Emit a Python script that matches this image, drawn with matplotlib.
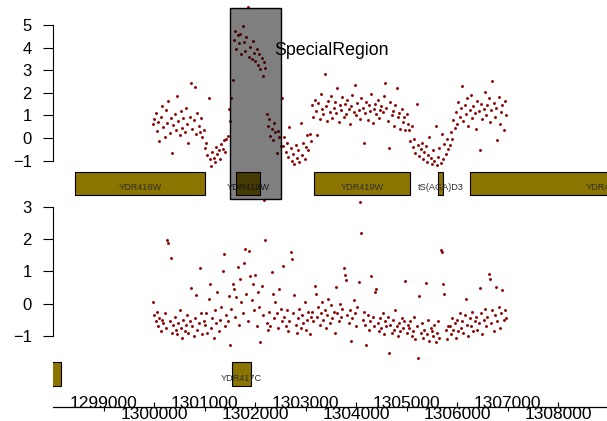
import numpy as np
import matplotlib
matplotlib.use("Agg")
import matplotlib.pyplot as plt
from matplotlib.patches import Rectangle
from matplotlib.transforms import blended_transform_factory

plt.rcParams['font.family'] = ['Liberation Sans', 'DejaVu Sans']

# probe positions (bp), shared by both data tracks
positions = [
    1299975, 1300000, 1300025, 1300050, 1300075, 1300100, 1300125, 1300150, 1300175, 1300200,
    1300225, 1300250, 1300275, 1300300, 1300325, 1300350, 1300375, 1300400, 1300425, 1300450,
    1300475, 1300500, 1300525, 1300550, 1300575, 1300600, 1300625, 1300650, 1300675, 1300700,
    1300725, 1300750, 1300775, 1300800, 1300825, 1300850, 1300875, 1300900, 1300925, 1300950,
    1300975, 1301000, 1301025, 1301050, 1301075, 1301100, 1301125, 1301150, 1301175, 1301200,
    1301225, 1301250, 1301275, 1301300, 1301325, 1301350, 1301375, 1301400, 1301425, 1301450,
    1301475, 1301500, 1301525, 1301550, 1301575, 1301600, 1301625, 1301650, 1301675, 1301700,
    1301725, 1301750, 1301775, 1301800, 1301825, 1301850, 1301875, 1301900, 1301925, 1301950,
    1301975, 1302000, 1302025, 1302050, 1302075, 1302100, 1302125, 1302150, 1302175, 1302200,
    1302225, 1302250, 1302275, 1302300, 1302325, 1302350, 1302375, 1302400, 1302425, 1302450,
    1302475, 1302500, 1302525, 1302550, 1302575, 1302600, 1302625, 1302650, 1302675, 1302700,
    1302725, 1302750, 1302775, 1302800, 1302825, 1302850, 1302875, 1302900, 1302925, 1302950,
    1302975, 1303000, 1303025, 1303050, 1303075, 1303100, 1303125, 1303150, 1303175, 1303200,
    1303225, 1303250, 1303275, 1303300, 1303325, 1303350, 1303375, 1303400, 1303425, 1303450,
    1303475, 1303500, 1303525, 1303550, 1303575, 1303600, 1303625, 1303650, 1303675, 1303700,
    1303725, 1303750, 1303775, 1303800, 1303825, 1303850, 1303875, 1303900, 1303925, 1303950,
    1303975, 1304000, 1304025, 1304050, 1304075, 1304100, 1304125, 1304150, 1304175, 1304200,
    1304225, 1304250, 1304275, 1304300, 1304325, 1304350, 1304375, 1304400, 1304425, 1304450,
    1304475, 1304500, 1304525, 1304550, 1304575, 1304600, 1304625, 1304650, 1304675, 1304700,
    1304725, 1304750, 1304775, 1304800, 1304825, 1304850, 1304875, 1304900, 1304925, 1304950,
    1304975, 1305000, 1305025, 1305050, 1305075, 1305100, 1305125, 1305150, 1305175, 1305200,
    1305225, 1305250, 1305275, 1305300, 1305325, 1305350, 1305375, 1305400, 1305425, 1305450,
    1305475, 1305500, 1305525, 1305550, 1305575, 1305600, 1305625, 1305650, 1305675, 1305700,
    1305725, 1305750, 1305775, 1305800, 1305825, 1305850, 1305875, 1305900, 1305925, 1305950,
    1305975, 1306000, 1306025, 1306050, 1306075, 1306100, 1306125, 1306150, 1306175, 1306200,
    1306225, 1306250, 1306275, 1306300, 1306325, 1306350, 1306375, 1306400, 1306425, 1306450,
    1306475, 1306500, 1306525, 1306550, 1306575, 1306600, 1306625, 1306650, 1306675, 1306700,
    1306725, 1306750, 1306775, 1306800, 1306825, 1306850, 1306875, 1306900, 1306925, 1306950,
    1306975,
]

# upper data track
signal_top = [
    0.62, 0.85, 1.12, 0.31, 0.70, -0.15, 0.95, 1.40, 0.48, 0.05,
    1.25, 0.66, 1.62, 0.22, 0.90, -0.68, 0.58, 1.05, 0.35, 1.85,
    0.74, 0.12, 1.20, 0.45, 0.88, 0.28, 1.32, 0.60, -0.22, 0.95,
    2.45, 0.40, 0.78, 2.28, 0.18, 1.10, 0.52, 0.25, 0.90, 0.05,
    0.35,
    -0.45, -0.20, -0.75, 1.76, -0.95, -1.22, -0.60, -0.88, -1.05, -0.40,
    -0.72, -0.55, -0.95, -0.25, -0.48, -0.10, -0.62, -0.05,
    0.10, 1.28, 0.74, 1.75, 2.55,
    4.35, 4.75, 3.95, 4.55, 4.20, 4.60, 3.70, 4.95, 4.25, 3.85,
    4.45, 5.78, 3.60, 4.05, 3.50, 4.30, 3.75, 3.40, 3.95, 3.25,
    3.70, 3.05, 3.55, 2.75, 3.35, 3.10,
    1.05, 0.55, 0.85, 0.10, 0.40, -0.10, 0.65, 0.25, -0.68, 0.30,
    0.05, -0.35, 1.75,
    -0.35, 0.05, -0.60, -0.20, -0.85, 0.50, -0.45, -1.00, -0.70, -1.15,
    -0.30, -0.90, -0.55, -1.08, 0.66, -0.75, -0.20, -0.95, -0.40, 0.15,
    -0.55, 0.20, -0.15,
    1.45, 0.95, 1.70, 1.20, 0.13, 1.55, 0.85, 1.95, 1.30, 1.05,
    2.83, 1.40, 0.75, 1.65, 1.15, 1.85, 0.90, 1.35, 1.60, 1.10,
    2.20, 0.70, 1.45, 1.25, 1.80, 0.95, 1.50, 1.05, 1.70, 1.30,
    0.60, 1.40, 1.90, 1.15, 2.35, 1.00, 1.55, 1.25, 0.85, 1.75,
    1.35, -0.22, 1.10, 1.60, 0.80, 1.45, 1.20, 1.95, 0.65, 1.30,
    1.50, 1.05, 1.70, 0.90, 1.25, 1.40, 1.15, 1.85, 2.43, 1.35,
    0.75, -0.46, 1.60, 1.00, 1.20, 0.55, 1.45, 2.23, 0.95, 1.10,
    0.40, 1.30, 0.70, 0.95, 0.35, 1.05, 0.60,
    0.35, -0.15, 0.55, -0.40, -0.05, -0.65, 1.50, -0.30, -0.80, -0.50,
    -0.20, -0.95, -0.60, -0.35, -1.05, -0.75, 0.05, -0.90, -1.15, -0.55,
    -1.00, 0.55, -1.20, -0.85, -0.45, -1.10, 0.20, -0.95, -0.25, -0.70,
    -0.05, -0.50,
    -0.30, 0.25, -0.05, 0.80, 0.45, 1.15, 0.60, 1.60, 0.95, 1.35,
    2.30, 0.75, 1.45, 1.05, 1.75, 0.55, 1.25, 1.90, 0.90, 1.40,
    1.10, 0.40, 1.65, 1.20, -0.53, 1.50, 0.85, 1.30, 2.05, 1.00,
    1.45, 1.75, 0.70, 1.25, 2.54, 1.55, 0.95, 1.35, -0.09, 1.80,
    0.60, 1.15, 1.45, 0.35, 1.65, 1.00,
]

# lower data track
signal_bottom = [
    0.05, -0.35, -0.55, -0.25, -0.70, -0.45, -0.85, -0.50, -0.60, -0.30,
    -0.75, 1.97, 1.87, -0.55, 1.40, -0.90, -0.65, -0.40, -0.80, -0.95,
    -0.60, -0.20, -0.75, -1.05, -0.50, -0.85, -0.65, -0.35, -0.90, -0.55,
    0.50, -0.70, -1.00, -0.45, 0.27, -0.80, -0.60, 1.10, -0.30, -0.95,
    -0.55,
    -0.65, -0.30, -0.90, 0.15, 0.62, -0.75, -0.45, -1.05, -0.20, -0.60,
    0.35, -0.85, -0.50, -0.10, 1.00, 1.53, -0.70, -0.35,
    -0.55, 0.25, -1.28, -0.15, 0.60,
    0.45, -0.40, 0.20, 1.15, -0.65, 0.75, 0.05, -0.30, 1.25, 1.69,
    0.30, -0.55, 1.63, 0.85, 0.10, 0.60, -0.20, 0.90, -0.70, 0.35,
    -0.10, -1.18, 0.55, -0.35, 3.20, 1.98,
    -0.60, -0.80, -0.25, -0.70, 0.99, 0.30, -0.45, 0.05, -0.30, -0.75,
    0.45, -0.15, -0.55,
    1.18, -0.40, -0.70, -0.20, -0.85, -0.55, 1.61, 1.37, -0.30, 0.27,
    -0.65, -0.90, -0.45, -0.15, -0.75, -0.35, -0.60, 0.05, -0.80, -0.50,
    -0.25, -0.95, -0.40,
    -0.25, -0.55, 0.54, 0.30, -0.40, -0.10, -0.65, -0.30, 0.05, -0.50,
    -0.20, -0.75, -0.35, 0.15, -0.60, -0.05, -0.45, -0.25, -0.90, 0.53,
    -0.30, -0.55, 0.00, -0.40, -0.15, 1.10, 0.89, 0.73, -0.35, -0.60,
    -0.20, -1.16, -0.45, 0.10, -0.30, -0.70, -0.10, 0.68, 3.14, 2.18,
    -0.50, -0.25, -0.65, -1.28, -0.35, -0.80, -0.55, 0.87, -0.40, -0.70,
    0.35, 0.46, -0.60, -0.85, -0.45, -0.75, -0.30, -0.95, -0.55, -0.70,
    -0.40, -1.54, -0.65, -0.90, -0.50, -0.80, -0.20, -0.70, -1.00, -0.60,
    -0.85, -0.45, -0.75, -0.55, 0.70, -0.90, -0.65,
    -0.75, -0.55, -1.00, -0.85, -0.40, -1.10, -0.70, -1.69, 0.25, -0.90,
    -0.60, -1.05, -0.80, 0.65, -0.95, -0.50, -1.15, -0.75, -0.85, -1.00,
    -0.65, -1.20, -0.90, -0.55, -1.05, 1.66, 1.59, 0.60, 0.30, -0.80,
    -1.10, -0.70,
    -0.70, -0.95, -0.45, -0.80, -0.60, -1.05, -0.50, -0.85, -0.30, -0.75,
    -0.55, -0.90, -0.35, 0.15, -0.65, -1.00, -0.45, -0.70, -0.25, -0.85,
    -0.55, -0.40, -0.80, -0.60, 0.48, -0.30, -0.95, -0.50, -0.15, -0.70,
    -0.40, 0.92, 0.77, -0.60, -0.20, -0.85, -0.35, 0.53, -0.55, -0.10,
    -0.75, -0.30, 0.42, -0.50, -0.20, -0.45,
]

# gene annotation, plus strand (upper) and minus strand (lower)
plus_names = ["YDR416W", "YDR418W", "YDR419W", "tS(AGA)D3", "YDR420W"]
plus_start = [1298425, 1301611, 1303163, 1305622, 1306262]
plus_end = [1301002, 1302099, 1305073, 1305715, 1311710]
minus_names = ["YDR415C", "YDR417C"]
minus_start = [1296900, 1301544]
minus_end = [1298153, 1301920]

highlight_start, highlight_end = 1301500, 1302500
highlight_label = "SpecialRegion"

axis_ticks = [1299000, 1300000, 1301000, 1302000, 1303000,
              1304000, 1305000, 1306000, 1307000, 1308000]

W, H = 607, 421
fig = plt.figure(figsize=(W / 100, H / 100), dpi=100)
xlim = (1297989, 1308972)
left = 53


def box(top, bottom):
    # figure rect from pixel rows
    return [left / W, (H - bottom) / H, (W - left) / W, (bottom - top) / H]


ax1 = fig.add_axes(box(4.7, 167.4))
g1 = fig.add_axes(box(170.05, 196.95))
ax2 = fig.add_axes(box(197.1, 360.2))
g2 = fig.add_axes(box(360.65, 387.65))
axx = fig.add_axes([left / W, (H - 406.7) / H, (W - left) / W, 0.0001])

# data tracks
for ax, vals, top, ylim in ((ax1, signal_top, 5, (-1.3, 5.9)),
                            (ax2, signal_bottom, 3, (-1.75, 3.3))):
    ax.plot(positions, vals, 'o', ms=2.1, mew=0, color='#8B0000')
    ax.set_xlim(xlim)
    ax.set_ylim(ylim)
    for s in ['top', 'right', 'bottom']:
        ax.spines[s].set_visible(False)
    ax.spines['left'].set_bounds(-1, top)
    ax.spines['left'].set_linewidth(0.8)
    ax.set_yticks(range(-1, top + 1))
    ax.set_xticks([])
    ax.tick_params(axis='y', length=7.2, width=0.8, pad=8, labelsize=12)
    ax.patch.set_visible(False)


def draw_genes(ax, names, starts, ends, label_y):
    ax.barh(0, np.subtract(ends, starts), left=starts, height=1,
            color='#8B7500', edgecolor='black', linewidth=0.8)
    for n, s, e in zip(names, starts, ends):
        ax.text((s + e) / 2, label_y, n, ha='center', va='center',
                fontsize=6.6, color='#303030', clip_on=True)
    ax.set_xlim(xlim)
    ax.set_ylim(-0.57, 0.57)
    ax.axis('off')


draw_genes(g1, plus_names, plus_start, plus_end, -0.19)
draw_genes(g2, minus_names, minus_start, minus_end, -0.2)

# highlighted region across the upper tracks
trans = blended_transform_factory(ax1.transData, fig.transFigure)
fig.add_artist(Rectangle((highlight_start, (H - 199.3) / H),
                         highlight_end - highlight_start, (199.3 - 8.3) / H,
                         transform=trans, facecolor=(0, 0, 0, 0.5),
                         edgecolor='black', linewidth=1.0, zorder=5))
ax1.text(1302370, 3.67, highlight_label, fontsize=12.8, ha='left', va='baseline')

# genome axis, labels alternate above / below the line
even = [t for t in axis_ticks if (t // 1000) % 2 == 0]
odd = [t for t in axis_ticks if (t // 1000) % 2 == 1]
axx.set_xlim(xlim)
axx.set_ylim(0, 1)
axx.set_yticks([])
for s in ['left', 'right', 'top']:
    axx.spines[s].set_visible(False)
axx.spines['bottom'].set_linewidth(0.9)
axx.set_xticks(even)
axx.set_xticklabels([str(t) for t in even])
axx.set_xticks(odd, minor=True)
axx.set_xticklabels([str(t) for t in odd], minor=True)
axx.tick_params(axis='x', which='major', direction='in', length=3.6, width=0.8,
                bottom=True, top=False, labelbottom=True, labeltop=False,
                pad=0, labelsize=12.5)
axx.tick_params(axis='x', which='minor', direction='in', length=2.9, width=0.8,
                bottom=False, top=True, labelbottom=False, labeltop=True,
                pad=-3.0, labelsize=12.5)
axx.patch.set_visible(False)

fig.savefig('out.png', dpi=100)
